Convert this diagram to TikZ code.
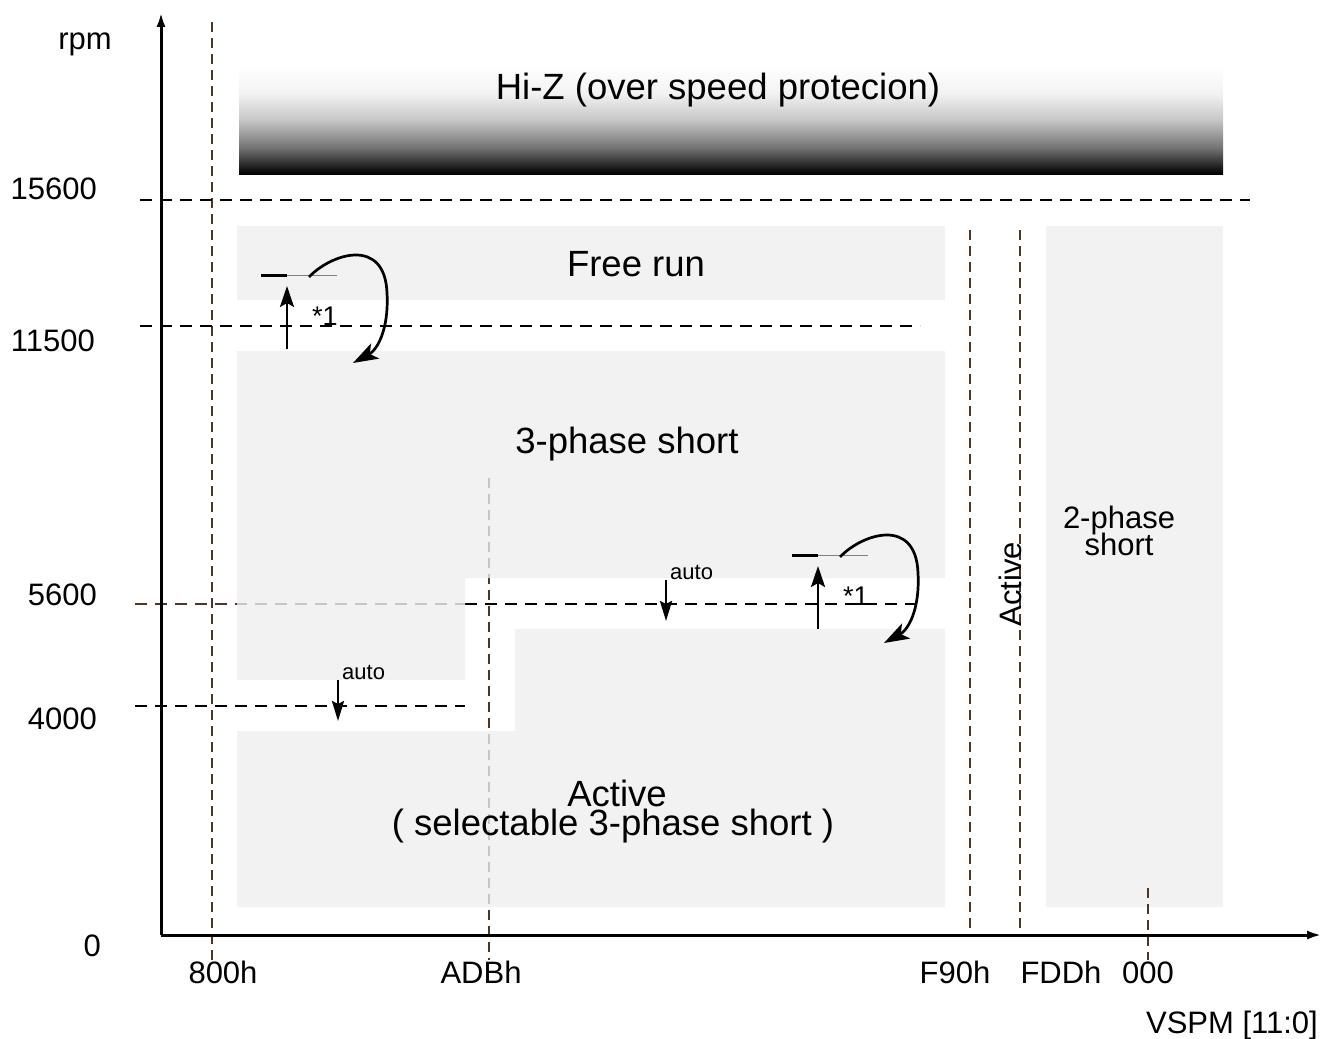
\documentclass[tikz,border=0pt]{standalone}
\usepackage{fontspec}
\setmainfont{Liberation Sans}
\usetikzlibrary{arrows.meta}
\definecolor{tickbrown}{HTML}{4B3628}
\definecolor{regiongray}{HTML}{EEEEEE}
\pgfdeclareverticalshading{hizshade}{100bp}{color(0bp)=(black); color(25bp)=(black);
  color(37bp)=(black!55); color(50bp)=(black!22); color(62bp)=(black!5);
  color(75bp)=(white); color(100bp)=(white)}

\begin{document}
\begin{tikzpicture}[x=1pt,y=-1pt,every node/.style={inner sep=0pt},
    region/.style={fill=regiongray,fill opacity=0.78},
    guide/.style={line width=2.2pt,dash pattern=on 12pt off 8pt},
    tick/.style={line width=2pt,draw=tickbrown,dash pattern=on 10pt off 6pt},
    big/.style={font=\fontsize{36.5}{38}\selectfont},
    mid/.style={font=\fontsize{31}{33}\selectfont},
    small/.style={font=\fontsize{22}{24}\selectfont},
    stepup/.style={line width=2.7pt,-{Stealth[length=21pt,width=14pt,inset=4pt]}}]
  \useasboundingbox (0,0) rectangle (1324,1038);

  % dashed guides, under the regions
  \draw[tick] (212,22) -- (212,960);
  \draw[tick] (489,478) -- (489,960);
  \draw[tick] (970,230) -- (970,935);
  \draw[tick] (1020,230) -- (1020,935);
  \draw[guide] (140,200) -- (1250,200);
  \draw[guide] (140,326) -- (920,326);
  \draw[guide,draw=tickbrown] (135,604) -- (465,604);
  \draw[guide] (465,604) -- (920,604);
  \draw[guide] (135,706) -- (465,706);

  % regions
  \shade[shading=hizshade] (239,65) rectangle (1223,174);
  \fill[region] (237,226) rectangle (945,300);
  \fill[region] (1046,226) rectangle (1223,907);
  \fill[region] (237,351) -- (945,351) -- (945,578) -- (465,578) -- (465,680) -- (237,680) -- cycle;
  \fill[region] (237,731) -- (515,731) -- (515,629) -- (945,629) -- (945,907) -- (237,907) -- cycle;
  \draw[tick] (1148,888) -- (1148,960);

  % axes
  \coordinate (O) at (161,935);
  \draw[line width=3pt,-{Latex[length=15pt,width=9pt]}] (O) -- (161,12) coordinate (ytip);
  \draw[line width=3pt,-{Latex[length=15pt,width=9pt]}] (O) -- (1322,935) coordinate (xtip);

  \node[mid,anchor=base] (rpm) at (85,50) {rpm};
  \foreach \v/\x/\y in {15600/97/199,11500/95/351,5600/97/605,4000/97/729,0/101/956}
    \node[mid,anchor=base east] (rpm\v) at (\x,\y) {\v};
  \foreach \t/\x in {800h/223,ADBh/481,F90h/955,FDDh/1061,000/1148}
    \node[mid,anchor=base] (vspm\t) at (\x,983) {\t};
  \node[mid,anchor=base east] (vspm) at (1318,1033) {VSPM [11:0]};

  % region labels
  \node[big,anchor=base] (hiz) at (718,100) {Hi-Z (over speed protecion)};
  \node[big,anchor=base] (freerun) at (636,276) {Free run};
  \node[big,anchor=base] (threeshort) at (627,453) {3-phase short};
  \node[mid,anchor=base] (twophase) at (1119,528) {2-phase};
  \node[mid,anchor=base] (twoshort) at (1119,555) {short};
  \node[mid,anchor=base,rotate=90] (activeband) at (1021,584) {Active};
  \node[big,anchor=base] (active) at (617,806) {Active};
  \node[big,anchor=base] (selectable) at (613,835) {( selectable 3-phase short )};

  % hysteresis marks *1
  \foreach \mx/\my [count=\i] in {287/275,818/555}{
    \begin{scope}[shift={(\mx,\my)}]
      \draw[line width=3pt] (-26,0) -- (0,0) coordinate (bar\i);
      \draw[gray,line width=0.8pt] (bar\i) -- (50,0);
      \draw[stepup] (0,74) -- (0,11) coordinate (up\i);
      \node[font=\fontsize{27}{29}\selectfont,anchor=base west] (star\i) at (25,50) {*1};
      \draw[line width=2.7pt,-{Stealth[length=25pt,width=17pt,inset=6pt]}]
        (22,2) coordinate (loop\i) .. controls (45,-22) and (98,-38) .. (100,18)
        .. controls (102,55) and (90,75) .. (66,88);
    \end{scope}}

  % automatic steps
  \foreach \ax/\ay [count=\i] in {666/580,338/680}{
    \draw[stepup,-{Stealth[length=20pt,width=12pt,inset=3pt]}] (\ax,\ay) coordinate (auto\i) -- (\ax,\ay+41);
    \node[small,anchor=base west] (autolabel\i) at (\ax+4,\ay-1) {auto};}
\end{tikzpicture}
\end{document}
